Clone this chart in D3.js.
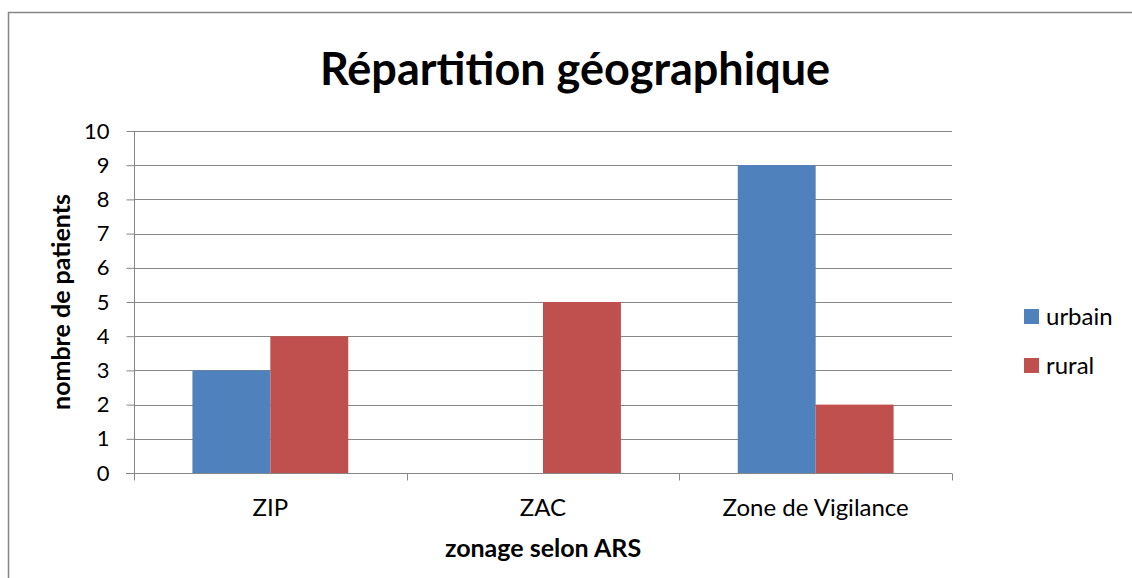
<!DOCTYPE html>
<html>
<head>
<meta charset="utf-8">
<script src="https://cdn.jsdelivr.net/npm/d3@7"></script>
<style>
  body { margin: 0; background: #fff; }
  svg { display: block; font-family: Lato, "Noto Sans", sans-serif; }
</style>
</head>
<body>
<div id="chart"></div>
<script>
var categories = ["ZIP", "ZAC", "Zone de Vigilance"];
var seriesNames = ["urbain", "rural"];
var urbain = [3, 0, 9];
var rural = [4, 5, 2];
var yTicks = [0, 1, 2, 3, 4, 5, 6, 7, 8, 9, 10];
var colors = ["#4f81bd", "#c0504d"];

var width = 1132, height = 578;
var margin = {top: 131, right: 180, bottom: 105, left: 134};

var svg = d3.select("#chart").append("svg")
    .attr("width", width)
    .attr("height", height);

// chart frame
svg.append("rect")
    .attr("x", 8.5).attr("y", 12.5)
    .attr("width", width + 20).attr("height", height + 20)
    .attr("fill", "none")
    .attr("stroke", "#868686")
    .attr("stroke-width", 1.5);

var x0 = d3.scaleBand()
    .domain(categories)
    .range([margin.left, width - margin.right])
    .padding(0);

var x1 = d3.scaleBand()
    .domain(seriesNames)
    .range([0, x0.bandwidth()])
    .paddingInner(0)
    .paddingOuter(0.75);

var y = d3.scaleLinear()
    .domain([0, 10])
    .range([height - margin.bottom, margin.top]);

var g = svg.append("g");

// gridlines
g.append("g")
  .selectAll("line")
  .data(yTicks.filter(d => d > 0))
  .enter().append("line")
    .attr("x1", margin.left).attr("x2", width - margin.right)
    .attr("y1", d => Math.round(y(d)) + 0.5).attr("y2", d => Math.round(y(d)) + 0.5)
    .attr("stroke", "#868686");

// bars
var rows = categories.map((c, i) => ({cat: c, values: [urbain[i], rural[i]]}));
g.append("g")
  .selectAll("g")
  .data(rows)
  .enter().append("g")
    .attr("transform", d => "translate(" + x0(d.cat) + ",0)")
  .selectAll("rect")
  .data(d => d.values.map((v, j) => ({name: seriesNames[j], value: v, j: j})))
  .enter().append("rect")
    .attr("x", d => x1(d.name))
    .attr("width", x1.bandwidth())
    .attr("y", d => y(d.value))
    .attr("height", d => y(0) - y(d.value))
    .attr("fill", d => colors[d.j]);

// y axis
var yAxis = d3.axisLeft(y)
    .tickValues(yTicks)
    .tickSize(8)
    .tickPadding(17)
    .tickFormat(d3.format("d"));

var ya = g.append("g")
    .attr("transform", "translate(" + (margin.left + 0.5) + ",0)")
    .call(yAxis);
ya.selectAll("line").attr("stroke", "#868686");
ya.select(".domain").attr("stroke", "#868686").attr("d", "M0," + y(10) + "V" + y(0));
ya.selectAll("text")
    .attr("font-size", 22)
    .attr("font-family", "Lato, sans-serif")
    .attr("fill", "#000");

// x axis
var xa = g.append("g")
    .attr("transform", "translate(0," + (Math.round(y(0)) + 0.5) + ")");
xa.append("line")
    .attr("x1", margin.left - 8).attr("x2", width - margin.right)
    .attr("stroke", "#868686");
xa.selectAll(".tk")
  .data(categories.concat(["end"]))
  .enter().append("line")
    .attr("class", "tk")
    .attr("x1", (d, i) => Math.round(margin.left + i * x0.step()) + 0.5)
    .attr("x2", (d, i) => Math.round(margin.left + i * x0.step()) + 0.5)
    .attr("y1", 0).attr("y2", 7)
    .attr("stroke", "#868686");
xa.selectAll(".lbl")
  .data(categories)
  .enter().append("text")
    .attr("class", "lbl")
    .attr("x", d => x0(d) + x0.bandwidth() / 2)
    .attr("y", 42)
    .attr("text-anchor", "middle")
    .attr("font-size", 24)
    .text(d => d);

// title
svg.append("text")
    .attr("x", 575).attr("y", 85)
    .attr("text-anchor", "middle")
    .attr("font-size", 45)
    .attr("font-weight", "bold")
    .text("Répartition géographique");

// axis titles
svg.append("text")
    .attr("x", (margin.left + width - margin.right) / 2)
    .attr("y", 557)
    .attr("text-anchor", "middle")
    .attr("font-size", 25)
    .attr("font-weight", "bold")
    .text("zonage selon ARS");

svg.append("text")
    .attr("transform", "translate(70," + (y(5)) + ") rotate(-90)")
    .attr("text-anchor", "middle")
    .attr("font-size", 25)
    .attr("font-weight", "bold")
    .text("nombre de patients");

// legend
var legend = svg.append("g")
  .selectAll("g")
  .data(seriesNames)
  .enter().append("g")
    .attr("transform", (d, i) => "translate(1024," + (309 + i * 49) + ")");
legend.append("rect")
    .attr("width", 15).attr("height", 15)
    .attr("fill", (d, i) => colors[i]);
legend.append("text")
    .attr("x", 22).attr("y", 16)
    .attr("font-size", 24)
    .text(d => d);
</script>
</body>
</html>
